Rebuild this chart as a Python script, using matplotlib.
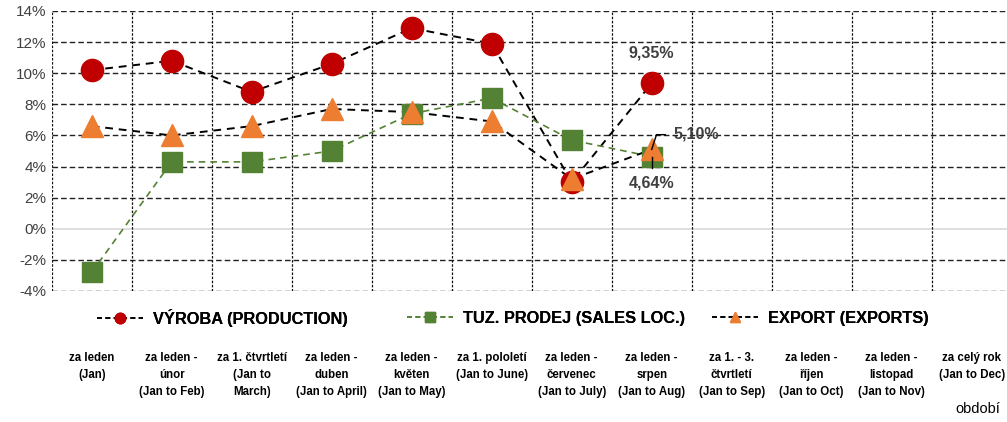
import matplotlib
matplotlib.use("Agg")
import matplotlib.pyplot as plt
from matplotlib.lines import Line2D
import numpy as np

# ── Daten ──────────────────────────────────────────────────────────
categories = [
    "za leden\n(Jan)",
    "za leden -\núnor\n(Jan to Feb)",
    "za 1. čtvrtletí\n(Jan to\nMarch)",
    "za leden -\nduben\n(Jan to April)",
    "za leden -\nkvěten\n(Jan to May)",
    "za 1. pololetí\n(Jan to June)",
    "za leden -\nčervenec\n(Jan to July)",
    "za leden -\nsrpen\n(Jan to Aug)",
    "za 1. - 3.\nčtvrtletí\n(Jan to Sep)",
    "za leden -\nříjen\n(Jan to Oct)",
    "za leden -\nlistopad\n(Jan to Nov)",
    "za celý rok\n(Jan to Dec)",
]
vyroba = [10.2, 10.8, 8.8, 10.6, 12.9, 11.9, 3.0, 9.35]
tuz_prodej = [-2.8, 4.3, 4.3, 5.0, 7.4, 8.4, 5.7, 4.64]
export = [6.6, 6.0, 6.6, 7.7, 7.5, 6.9, 3.2, 5.10]
yticks = [-4, -2, 0, 2, 4, 6, 8, 10, 12, 14]
series_names = ["VÝROBA (PRODUCTION)", "TUZ. PRODEJ (SALES LOC.)", "EXPORT (EXPORTS)"]

RED = "#C00000"
GREEN = "#548235"
ORANGE = "#ED7D31"
TXT = "#404040"

plt.rcParams["font.family"] = ["Liberation Sans", "DejaVu Sans"]

fig = plt.figure(figsize=(10.07, 4.22), dpi=100, facecolor="white")
ax = fig.add_axes([51.7 / 1007, 1 - 291 / 422, 960 / 1007, 280 / 422])

x = np.arange(len(categories))

# ── Gitter ─────────────────────────────────────────────────────────
for v in yticks:
    if v == 0:
        ax.axhline(v, color="#d9d9d9", lw=1.2, zorder=1)
    else:
        ax.axhline(v, color="#222222", lw=1.0, ls=(0, (4, 2.2)), zorder=1)
for b in np.arange(-0.5, len(categories), 1.0):
    ax.axvline(b, color="#111111", lw=0.9, ls=(0, (2, 1.3)), zorder=1)

# ── Serien ─────────────────────────────────────────────────────────
n = len(vyroba)
ax.plot(x[:n], vyroba, color="black", lw=1.4, ls=(0, (4, 3)), zorder=3)
ax.plot(x[:n], vyroba, ls="none", marker="o", ms=16, color=RED, zorder=4)
ax.plot(x[:n], tuz_prodej, color=GREEN, lw=1.2, ls=(0, (4, 3)), zorder=3)
ax.plot(x[:n], tuz_prodej, ls="none", marker="s", ms=14, color=GREEN, zorder=5)
ax.plot(x[:n], export, color="black", lw=1.4, ls=(0, (4, 3)), zorder=3)
ax.plot(x[:n], export, ls="none", marker="^", ms=16, color=ORANGE, zorder=6)

# ── Datenbeschriftungen ────────────────────────────────────────────
lab = dict(color=TXT, fontsize=11.5, fontweight="bold", ha="center", va="center")
last = n - 1
ax.annotate("9,35%", (x[last], vyroba[last]), xytext=(0, 22),
            textcoords="offset points", **lab)
ax.annotate("4,64%", (x[last], tuz_prodej[last]), xytext=(0, -19),
            textcoords="offset points", **lab)
ax.plot([x[last], x[last]], [tuz_prodej[last], tuz_prodej[last] - 0.75],
        color="black", lw=1.0, zorder=7)
ax.annotate("5,10%", (x[last], export[last]), xytext=(32, 11),
            textcoords="offset points", **lab)
ax.plot([x[last], x[last] + 0.06, x[last] + 0.17],
        [export[last], export[last] + 0.95, export[last] + 0.95],
        color="black", lw=1.0, zorder=7)

# ── Achsen ─────────────────────────────────────────────────────────
ax.set_xlim(-0.5, len(categories) - 0.5)
ax.set_ylim(-4, 14)
ax.set_yticks(yticks)
ax.set_yticklabels([f"{v}%" for v in yticks], color=TXT, fontsize=11)
ax.set_xticks(x)
ax.set_xticklabels(categories, fontsize=8.3, fontweight="bold", color="black",
                   va="top", linespacing=1.55)
ax.tick_params(axis="x", length=0, pad=44)
ax.tick_params(axis="y", length=0, pad=4)
for s in ax.spines.values():
    s.set_visible(False)

fig.text(1000 / 1007, 1 - 409 / 422, "období", ha="right", va="center",
         fontsize=10.5, color="black")

# ── Legende ────────────────────────────────────────────────────────
handles = [
    Line2D([], [], color="black", lw=1.2, ls=(0, (3, 2)), marker="o", ms=7.5, mfc=RED, mec=RED),
    Line2D([], [], color=GREEN, lw=1.2, ls=(0, (3, 2)), marker="s", ms=7, mfc=GREEN, mec=GREEN),
    Line2D([], [], color="black", lw=1.2, ls=(0, (3, 2)), marker="^", ms=7.5, mfc=ORANGE, mec=ORANGE),
]
leg_x = [97, 407, 712]
for h, name, lx in zip(handles, series_names, leg_x):
    lg = fig.legend([h], [name], loc="center left",
                    bbox_to_anchor=(lx / 1007, 1 - 318 / 422), frameon=False,
                    prop={"size": 11.8, "weight": "bold"}, handlelength=2.8,
                    handletextpad=0.6, borderpad=0, borderaxespad=0)
    fig.add_artist(lg)

plt.savefig("out.png", dpi=100, facecolor=fig.get_facecolor())
plt.close(fig)
